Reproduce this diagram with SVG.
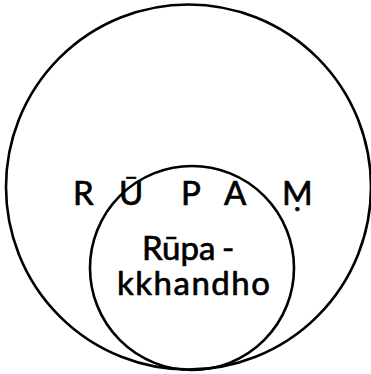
<svg xmlns="http://www.w3.org/2000/svg" width="371" height="374" viewBox="0 0 371 374">
<style>
.c{fill:none;stroke:#000;stroke-width:2.6}
.t{font-family:Lato,"DejaVu Sans",sans-serif;fill:#000;stroke:#000;stroke-width:0.7}
</style>
<rect width="371" height="374" fill="#fff"/>
<g id="rupam">
<circle class="c" cx="188.5" cy="187" r="182.5"/>
<text class="t" font-size="33" y="205"><tspan x="73">R</tspan><tspan x="119">Ū</tspan><tspan x="181">P</tspan><tspan x="224">A</tspan><tspan x="282">Ṃ</tspan></text>
</g>
<g id="rupakkhandho">
<circle class="c" cx="192" cy="268" r="102"/>
<text class="t" font-size="33" y="260"><tspan x="142">Rūpa</tspan><tspan x="222">-</tspan></text>
<text class="t" font-size="33" x="117" y="295" textLength="153" lengthAdjust="spacing">kkhandho</text>
</g>
<g id="connectors"/>
</svg>
